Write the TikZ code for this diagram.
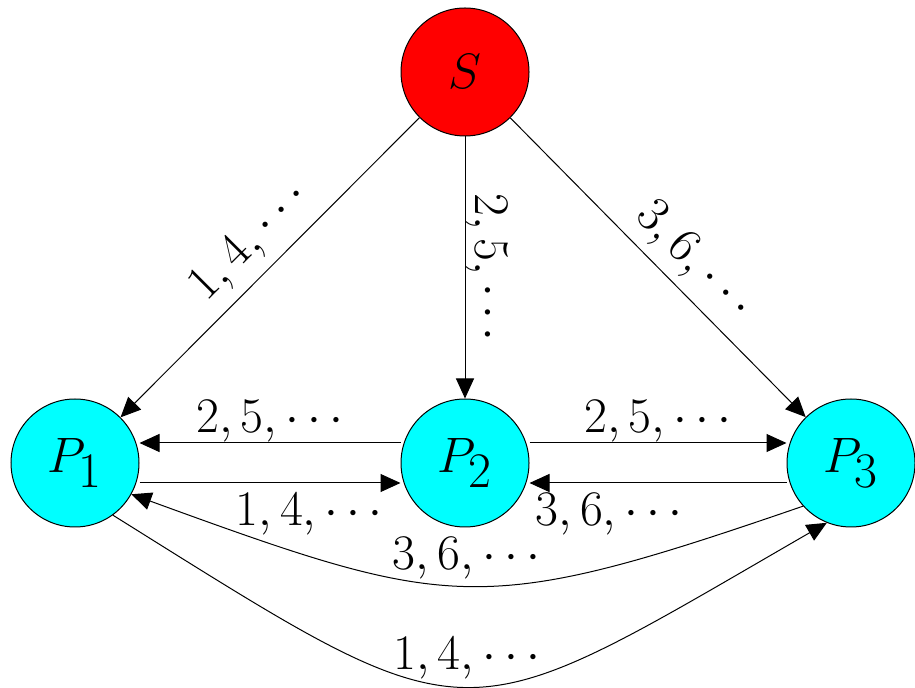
\documentclass[tikz,border=0pt]{standalone}
\usetikzlibrary{arrows.meta}
\definecolor{nodecyan}{RGB}{0,255,255}
\definecolor{nodered}{RGB}{255,0,0}
\begin{document}
\begin{tikzpicture}[x=0.5pt,y=-0.5pt,
  proc/.style={circle, draw, line width=0.5pt, fill=nodecyan, minimum size=64pt,
    inner sep=0pt, font=\fontsize{37}{44}\selectfont},
  src/.style={proc, fill=nodered},
  arr/.style={-{Triangle[length=10pt,width=9pt]}, line width=0.5pt},
  lbl/.style={font=\fontsize{24}{29}\selectfont, inner sep=5pt, text depth=0pt}]
\useasboundingbox (0,0) rectangle (915,688);
\node[src]  (S)  at (465,72)  {$S$};
\node[proc] (P1) at (75,463)  {$P_1$};
\node[proc] (P2) at (465,463) {$P_2$};
\node[proc] (P3) at (851,463) {$P_3$};

\draw[arr] (S) -- node[lbl, sloped, above=5pt, pos=0.49] {$1,4,\cdots$} (P1);
\draw[arr] (S) -- node[lbl, sloped, above] {$2,5,\cdots$} (P2);
\draw[arr] (S) -- node[lbl, sloped, above=4pt, pos=0.55] {$3,6,\cdots$} (P3);

\draw[arr] ([yshift=10pt]P2.west) -- node[lbl, above] {$2,5,\cdots$} ([yshift=10pt]P1.east);
\draw[arr] ([yshift=-10pt]P1.east) -- node[lbl, below, pos=0.65] {$1,4,\cdots$} ([yshift=-10pt]P2.west);
\draw[arr] ([yshift=10pt]P2.east) -- node[lbl, above] {$2,5,\cdots$} ([yshift=10pt]P3.west);
\draw[arr] ([yshift=-10pt]P3.west) -- node[lbl, below, pos=0.69] {$3,6,\cdots$} ([yshift=-10pt]P2.east);

\draw[arr] (P3.-138) to[out=-161, in=-20, looseness=1.3]
  node[lbl, above=3pt] {$3,6,\cdots$} (P1.-29);
\draw[arr] (P1.-54) to[out=-32, in=-150, looseness=1.55]
  node[lbl, above=3pt] {$1,4,\cdots$} (P3.-112);
\end{tikzpicture}
\end{document}
